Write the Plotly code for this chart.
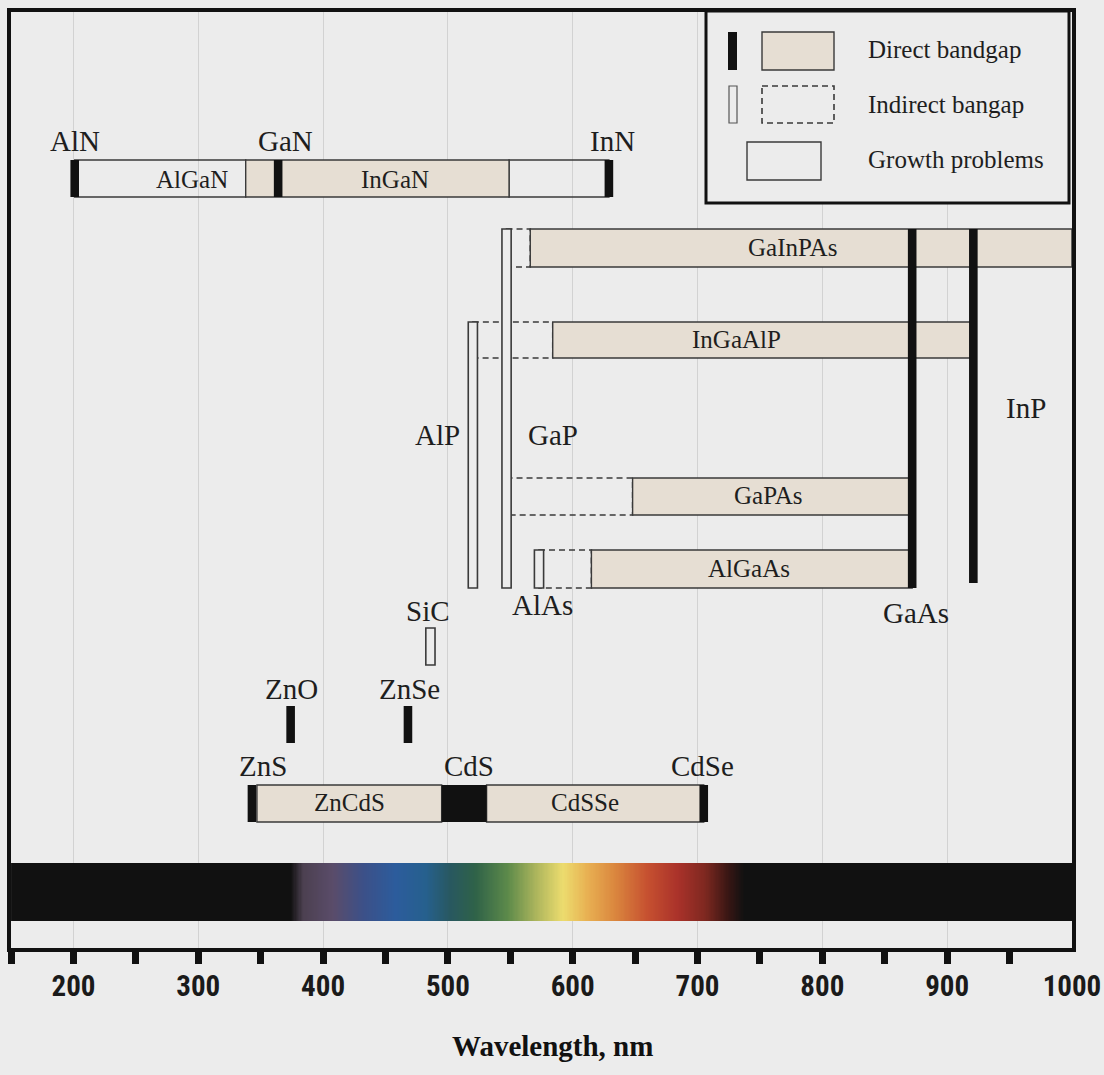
import plotly.graph_objects as go

# ---------------------------------------------------------------- data ---
WL_MIN, WL_MAX = 150, 1000

# Direct-gap binary compounds, drawn as solid bars (bandgap wavelength, nm)
direct_names = ["AlN", "GaN", "InN", "GaAs", "InP", "ZnO", "ZnSe", "ZnS", "CdSe"]
direct_nm = [201, 364, 629, 872, 921, 374, 468, 343, 705]

# Indirect-gap binary compounds, drawn as open bars
indirect_names = ["AlP", "GaP", "AlAs", "SiC"]
indirect_nm = [520, 547, 573, 486]

# CdS occupies a band of wavelengths
cds_from, cds_to = 495, 531

# Alloys: direct-gap composition range (filled boxes)
alloy_names = ["InGaN", "GaInPAs", "InGaAlP", "GaPAs", "AlGaAs", "ZnCdS", "CdSSe"]
alloy_from = [338, 566, 584, 648, 615, 347, 531]
alloy_to = [549, 1000, 921, 872, 872, 495, 705]

# Alloys: indirect-gap composition range (dashed boxes)
indirect_alloy_names = ["GaInPAs", "InGaAlP", "GaPAs", "AlGaAs"]
indirect_alloy_from = [547, 520, 547, 573]
indirect_alloy_to = [566, 584, 648, 615]

# Alloys with growth problems (open boxes)
growth_names = ["AlGaN", "InGaN"]
growth_from = [201, 549]
growth_to = [338, 629]

# Visible spectrum strip: colour stops along the wavelength axis
spectrum_nm = [150, 374, 384, 408, 432, 458, 482, 502, 522, 548, 570, 592,
               612, 634, 660, 684, 706, 724, 737, 1000]
spectrum_colors = ["#111111", "#111111", "#4c4050", "#5a4c6a", "#3c5088",
                   "#2c5c9c", "#26608e", "#285860", "#2f6248", "#5d8a4a",
                   "#aab45c", "#ecdc6e", "#e8b052", "#da863e", "#c65030",
                   "#aa322a", "#7e2820", "#3a1614", "#111111", "#111111"]

# Axis ticks
minor_tick_nm = [150, 200, 250, 300, 350, 400, 450, 500, 550, 600, 650,
                 700, 750, 800, 850, 900, 950]
label_nm = [200, 300, 400, 500, 600, 700, 800, 900, 1000]

# -------------------------------------------------------------- layout ---
W, H = 1104, 1075
ML, MR, MT, MB = 11, 32, 12, 127
Y_TOP, Y_BOT = MT, H - MB          # y axis counts pixel rows of the page
NM_PER_PX = (WL_MAX - WL_MIN) / (W - ML - MR)

BG = "#ececec"
BEIGE = "#e6ded3"
EDGE = "#3a3a3a"
INK = "#111111"
TXT = "#1e1e1e"
SERIF = "Liberation Serif, Times New Roman, serif"
NARROW = "Liberation Sans Narrow, Roboto Condensed, Liberation Sans, Arial, sans-serif"

ROWS = {
    "nitride": (160, 197), "GaInPAs": (229, 267), "InGaAlP": (322, 358),
    "GaPAs": (478, 515), "AlGaAs": (550, 588), "II-VI": (785, 822),
}
ROW_OF = {"AlGaN": "nitride", "InGaN": "nitride", "GaInPAs": "GaInPAs",
          "InGaAlP": "InGaAlP", "GaPAs": "GaPAs", "AlGaAs": "AlGaAs",
          "ZnCdS": "II-VI", "CdSSe": "II-VI"}
BAR_SPAN = {
    "AlN": ROWS["nitride"], "GaN": ROWS["nitride"], "InN": ROWS["nitride"],
    "GaAs": (229, 588), "InP": (229, 583), "ZnO": (706, 743),
    "ZnSe": (706, 743), "ZnS": ROWS["II-VI"], "CdSe": ROWS["II-VI"],
    "AlP": (322, 588), "GaP": (229, 588), "AlAs": (550, 588),
    "SiC": (628, 665),
}

shapes = []


def rect(x0, x1, y0, y1, **kw):
    shapes.append(dict(type="rect", xref="x", yref="y",
                       x0=x0, x1=x1, y0=y0, y1=y1, **kw))


# dashed indirect ranges (underneath everything else)
for n, a, b in zip(indirect_alloy_names, indirect_alloy_from, indirect_alloy_to):
    y0, y1 = ROWS[ROW_OF[n]]
    rect(a, b, y0, y1, fillcolor="rgba(0,0,0,0)",
         line=dict(color=EDGE, width=1.6, dash="6px,4px"))

# growth-problem ranges
for n, a, b in zip(growth_names, growth_from, growth_to):
    y0, y1 = ROWS[ROW_OF[n]]
    rect(a, b, y0, y1, fillcolor="rgba(0,0,0,0)", line=dict(color=EDGE, width=1.4))

# direct-gap alloy ranges
for n, a, b in zip(alloy_names, alloy_from, alloy_to):
    y0, y1 = ROWS[ROW_OF[n]]
    rect(a, b, y0, y1, fillcolor=BEIGE, line=dict(color=EDGE, width=1.4))

# CdS block
y0, y1 = ROWS["II-VI"]
rect(cds_from, cds_to, y0, y1, fillcolor=INK, line=dict(width=0))

# indirect binaries: open bars
half_open = 4.6 * NM_PER_PX
for n, v in zip(indirect_names, indirect_nm):
    y0, y1 = BAR_SPAN[n]
    rect(v - half_open, v + half_open, y0, y1, fillcolor=BG,
         line=dict(color=EDGE, width=1.6))

# direct binaries: solid bars
half_solid = 4.3 * NM_PER_PX
for n, v in zip(direct_names, direct_nm):
    y0, y1 = BAR_SPAN[n]
    rect(v - half_solid, v + half_solid, y0, y1, fillcolor=INK, line=dict(width=0))


# ----- legend box (paper x, pixel-row y)
def px(x):
    return (x - ML) / (W - ML - MR)


def py(y):
    return (Y_BOT - y) / (Y_BOT - Y_TOP)


def prect(x0, x1, y0, y1, **kw):
    shapes.append(dict(type="rect", xref="paper", yref="y",
                       x0=px(x0), x1=px(x1), y0=y0, y1=y1, **kw))


prect(706, 1069, 11, 203, fillcolor=BG, line=dict(color=INK, width=3))
prect(728, 737, 32, 70, fillcolor=INK, line=dict(width=0))
prect(762, 834, 32, 70, fillcolor=BEIGE, line=dict(color=EDGE, width=1.4))
prect(729, 737, 86, 123, fillcolor=BG, line=dict(color="#555555", width=1.2))
prect(762, 834, 86, 123, fillcolor="rgba(0,0,0,0)",
      line=dict(color=EDGE, width=1.6, dash="6px,4px"))
prect(747, 821, 142, 180, fillcolor="rgba(0,0,0,0)", line=dict(color=EDGE, width=1.4))

annotations = []


def label(text, x, y, size, xref="x", yref="y", xanchor="center", bold=False,
          color=TXT):
    font = dict(family=SERIF, size=size, color=color)
    if bold:
        font["weight"] = "bold"
    annotations.append(dict(text=text, x=x, y=y, xref=xref, yref=yref,
                            xanchor=xanchor, yanchor="middle", showarrow=False,
                            font=font))


for t, y in [("Direct bandgap", 49), ("Indirect bangap", 104), ("Growth problems", 159)]:
    label(t, px(866), y, 25, xref="paper", xanchor="left")

OUTER = 29
INNER = 25
label("AlN", 201, 141, OUTER)
label("GaN", 370, 141, OUTER)
label("InN", 632, 141, OUTER)
label("AlGaN", 295, 179, INNER)
label("InGaN", 458, 179, INNER)
label("GaInPAs", 776, 247, INNER)
label("InGaAlP", 731, 339, INNER)
label("GaPAs", 757, 495, INNER)
label("AlGaAs", 741, 568, INNER)
label("AlP", 492, 435, OUTER)
label("GaP", 584, 435, OUTER)
label("InP", 963, 408, OUTER)
label("GaAs", 875, 613, OUTER)
label("AlAs", 576, 605, OUTER)
label("SiC", 484, 611, OUTER)
label("ZnO", 375, 689, OUTER)
label("ZnSe", 469, 689, OUTER)
label("ZnS", 352, 766, OUTER)
label("CdS", 517, 766, OUTER)
label("CdSe", 704, 766, OUTER)
label("ZnCdS", 421, 802, INNER)
label("CdSSe", 610, 802, INNER)

# axis title
label("Wavelength, nm", px(552), py(1046), 29, xref="paper", yref="paper",
      bold=True, color="#111111")

# ----- spectrum strip as a one-row heatmap
edges = list(range(WL_MIN, WL_MAX + 1))
centers = [e + 0.5 for e in edges[:-1]]
cscale = [[(v - WL_MIN) / (WL_MAX - WL_MIN), c]
          for v, c in zip(spectrum_nm, spectrum_colors)]

fig = go.Figure()
fig.add_trace(go.Heatmap(x=edges, y=[863, 921], z=[centers], colorscale=cscale,
                         zmin=WL_MIN, zmax=WL_MAX, showscale=False,
                         hoverinfo="skip"))
# carrier for the 50 nm tick marks
fig.add_trace(go.Scatter(x=[WL_MIN, WL_MAX], y=[Y_BOT, Y_BOT], xaxis="x2",
                         mode="markers", marker=dict(opacity=0),
                         hoverinfo="skip", showlegend=False))

fig.update_layout(
    width=W, height=H,
    margin=dict(l=ML, r=MR, t=MT, b=MB, pad=0, autoexpand=False),
    paper_bgcolor=BG, plot_bgcolor=BG,
    showlegend=False,
    shapes=shapes, annotations=annotations,
    xaxis=dict(range=[WL_MIN - 0.05, WL_MAX + 0.05], tickvals=label_nm,
               ticktext=[str(v) for v in label_nm], ticks="",
               showgrid=True, gridcolor="#d2d2d2", gridwidth=1,
               showline=True, linecolor=INK, linewidth=4, mirror=True,
               zeroline=False, ticklabelstandoff=9, automargin=False,
               tickfont=dict(family=NARROW, size=29, color="#1a1a1a",
                             weight="bold")),
    xaxis2=dict(range=[WL_MIN - 0.05, WL_MAX + 0.05], overlaying="x", anchor="y",
                side="bottom", tickvals=minor_tick_nm, ticks="outside",
                ticklen=15, tickwidth=7, tickcolor=INK, showticklabels=False,
                showgrid=False, showline=False, zeroline=False,
                automargin=False),
    yaxis=dict(range=[Y_BOT, Y_TOP], showgrid=False, zeroline=False,
               showticklabels=False, ticks="", showline=True, linecolor=INK,
               linewidth=4, mirror=True, automargin=False),
)

fig.write_html("out.html")
